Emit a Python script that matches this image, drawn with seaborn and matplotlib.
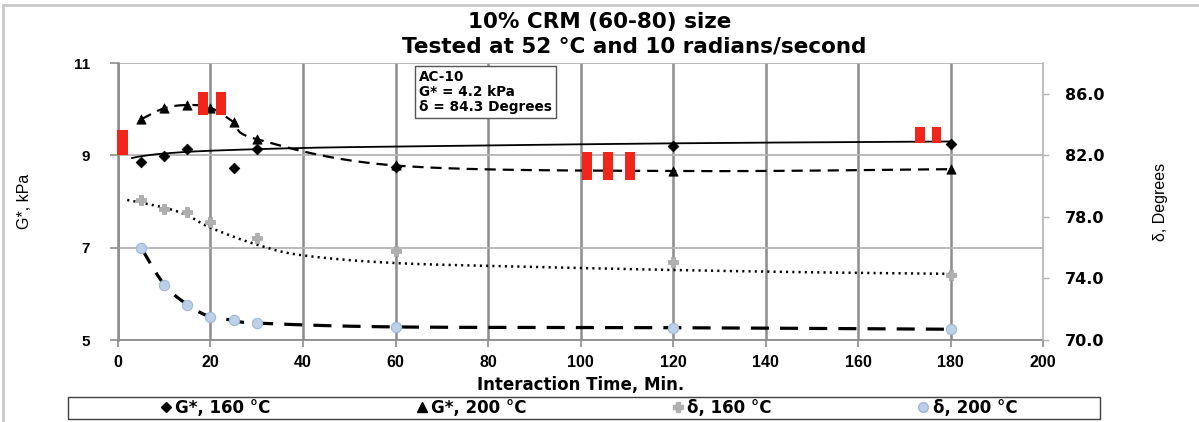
import numpy as np
import matplotlib
matplotlib.use("Agg")
import matplotlib.pyplot as plt
import seaborn as sns
from matplotlib.patches import Rectangle
from matplotlib.lines import Line2D

# ---------------- data ----------------
g160_time = [5, 10, 15, 25, 30, 60, 120, 180]
g160_val = [8.86, 8.98, 9.14, 8.72, 9.14, 8.75, 9.20, 9.25]
# trend line drawn through the G* 160 points
g160_trend_time = [3, 5, 10, 20, 40, 60, 120, 180]
g160_trend_val = [8.94, 8.98, 9.04, 9.10, 9.16, 9.19, 9.26, 9.30]

g200_time = [5, 10, 15, 20, 25, 30, 60, 120, 180]
g200_val = [9.78, 10.02, 10.09, 10.03, 9.72, 9.35, 8.78, 8.66, 8.70]

d160_time = [5, 10, 15, 20, 30, 60, 120, 180]
d160_val = [79.1, 78.5, 78.3, 77.7, 76.6, 75.8, 75.1, 74.2]
# dotted trend line of delta 160
d160_trend_time = [2, 10, 15, 20, 30, 40, 60, 90, 120, 150, 180]
d160_trend_val = [79.1, 78.6, 78.1, 77.3, 76.2, 75.5, 75.0, 74.75, 74.55, 74.4, 74.3]

d200_time = [5, 10, 15, 20, 25, 30, 60, 120, 180]
d200_val = [76.0, 73.6, 72.3, 71.5, 71.3, 71.1, 70.85, 70.8, 70.7]

x_ticks = [0, 20, 40, 60, 80, 100, 120, 140, 160, 180, 200]
left_ticks = [5, 7, 9, 11]
right_ticks = [70, 74, 78, 82, 86]

legend_labels = ["G*, 160 °C", "G*, 200 °C", "δ, 160 °C", "δ, 200 °C"]
title_line1 = "10% CRM (60-80) size"
title_line2 = "Tested at 52 °C and 10 radians/second"
info_text = "AC-10\nG* = 4.2 kPa\nδ = 84.3 Degrees"

# red highlight marks on the picture (x0, x1, y0, y1 in left-axis data units)
red_marks = [
    (-0.2, 2.2, 9.01, 9.55),
    (17.3, 19.5, 9.87, 10.37), (21.2, 23.4, 9.87, 10.37),
    (100.3, 102.5, 8.46, 9.07), (104.9, 107.0, 8.46, 9.07), (109.6, 111.8, 8.46, 9.07),
    (172.3, 174.5, 9.27, 9.61), (176.0, 177.9, 9.27, 9.61),
]

# ---------------- style ----------------
sns.set_theme(style="white")
plt.rcParams["font.family"] = ["DejaVu Sans"]
plt.rcParams["lines.scale_dashes"] = False
for k in ["text.color", "axes.labelcolor", "xtick.color", "ytick.color"]:
    plt.rcParams[k] = "black"
ARIAL = ["Liberation Sans", "DejaVu Sans"]


def smooth(xs, ys, n=40):
    """Excel-like smoothed line (Catmull-Rom Bezier) for drawing."""
    P = np.column_stack([xs, ys]).astype(float)
    out = []
    t = np.linspace(0, 1, n)[:, None]
    for i in range(len(P) - 1):
        p0 = P[i - 1] if i > 0 else P[i]
        p1, p2 = P[i], P[i + 1]
        p3 = P[i + 2] if i + 2 < len(P) else P[i + 1]
        c1 = p1 + (p2 - p0) / 6.0
        c2 = p2 - (p3 - p1) / 6.0
        seg = (1 - t) ** 3 * p1 + 3 * (1 - t) ** 2 * t * c1 + 3 * (1 - t) * t ** 2 * c2 + t ** 3 * p2
        out.append(seg if i == 0 else seg[1:])
    return np.vstack(out)


fig = plt.figure(figsize=(11.99, 4.22), dpi=100)
fig.patch.set_facecolor("white")
ax = fig.add_axes([0.0984, 0.1943, 0.7716, 0.6564])
ax2 = ax.twinx()

grid_dark = "#8c8c8c"
grid_light = "#b4b4b4"

# ---------------- lines ----------------
c = smooth(g160_trend_time, g160_trend_val)
ax.plot(c[:, 0], c[:, 1], color="black", lw=1.3, zorder=3)
c = smooth(g200_time, g200_val)
ax.plot(c[:, 0], c[:, 1], color="black", lw=1.6, dashes=(8, 5), zorder=3)
c = smooth(d160_trend_time, d160_trend_val)
ax2.plot(c[:, 0], c[:, 1], color="black", lw=1.8, dashes=(1.5, 3.0), zorder=3)
c = smooth(d200_time, d200_val)
ax2.plot(c[:, 0], c[:, 1], color="black", lw=2.3, dashes=(13, 8), zorder=3)

# ---------------- markers ----------------
sns.scatterplot(x=g160_time, y=g160_val, ax=ax, marker="D", color="black", s=30,
                edgecolor="black", linewidth=0.5, legend=False, zorder=4)
sns.scatterplot(x=g200_time, y=g200_val, ax=ax, marker="^", color="black", s=45,
                edgecolor="black", linewidth=0.5, legend=False, zorder=4)
sns.scatterplot(x=d160_time, y=d160_val, ax=ax2, marker="P", color="#b0b0b0", s=42,
                edgecolor="#a0a0a0", linewidth=0.5, legend=False, zorder=4)
sns.scatterplot(x=d200_time, y=d200_val, ax=ax2, marker="o", color="#bcd0e8", s=55,
                edgecolor="#9fb8d8", linewidth=0.8, legend=False, zorder=4)

for x0, x1, y0, y1 in red_marks:
    ax2.add_patch(Rectangle((x0, y0), x1 - x0, y1 - y0, transform=ax.transData,
                            facecolor="#f0261a", edgecolor="none", zorder=6, clip_on=False))

# ---------------- axes styling ----------------
ax.set_xlim(0, 200)
ax.set_ylim(5, 11)
ax2.set_ylim(70, 88)
ax.set_xticks(x_ticks)
ax.set_yticks(left_ticks)
ax2.set_yticks(right_ticks)
ax2.set_yticklabels([f"{v:.1f}" for v in right_ticks])

ax.grid(False)
ax2.grid(False)
ax.xaxis.grid(True, color=grid_dark, linewidth=1.8)
ax.yaxis.grid(True, color=grid_light, linewidth=1.3)
ax.set_axisbelow(True)
xgl = ax.get_xgridlines()
if xgl:
    xgl[-1].set_visible(False)

ax.spines["top"].set_visible(False)
ax2.spines["top"].set_visible(False)
ax.spines["right"].set_visible(False)
ax2.spines["left"].set_visible(False)
ax2.spines["bottom"].set_visible(False)
ax.spines["left"].set_color(grid_dark)
ax.spines["left"].set_linewidth(1.8)
ax.spines["bottom"].set_color(grid_dark)
ax.spines["bottom"].set_linewidth(1.3)
ax2.spines["right"].set_color(grid_light)
ax2.spines["right"].set_linewidth(1.2)

ax.tick_params(axis="x", direction="out", length=5, width=1.2, color=grid_dark, pad=6,
               labelsize=11.5, bottom=True, labelcolor="black")
ax.tick_params(axis="y", direction="out", length=6, width=1.2, color=grid_dark, pad=14,
               labelsize=11, left=True, labelcolor="black")
ax2.yaxis.set_tick_params(which="major", direction="out", length=4, width=1.0,
                          color=grid_light, pad=12, labelsize=11.5, right=True,
                          labelright=True, labelcolor="black")
for lab in ax.get_xticklabels() + ax.get_yticklabels():
    lab.set_fontweight("bold")
    lab.set_family(ARIAL)
for lab in ax2.get_yticklabels():
    lab.set_fontweight("bold")

ax.set_xlabel("Interaction Time, Min.", fontsize=12, fontweight="bold", labelpad=4,
              color="black")
ax.set_ylabel("G*, kPa", fontsize=11.5, labelpad=30, family=ARIAL, color="black")
ax2.set_ylabel("δ, Degrees", fontsize=11.5, labelpad=35, color="black",
               family=["Liberation Sans Narrow", "Liberation Sans", "DejaVu Sans"])

# ---------------- texts ----------------
fig.text(600 / 1199, 1 - 22 / 422, title_line1, ha="center", va="center",
         fontsize=15.5, fontweight="bold", color="black")
fig.text(634 / 1199, 1 - 46 / 422, title_line2, ha="center", va="center",
         fontsize=15.5, fontweight="bold", color="black")

fig.text(419 / 1199, 1 - 70 / 422, info_text, ha="left", va="top", fontsize=9.8,
         fontweight="bold", linespacing=1.1, color="black",
         bbox=dict(boxstyle="square,pad=0.3", facecolor="white", edgecolor="#555555", lw=1.0),
         zorder=7)

# ---------------- legend ----------------
handles = [
    Line2D([], [], linestyle="none", marker="D", color="black", markersize=5),
    Line2D([], [], linestyle="none", marker="^", color="black", markersize=7),
    Line2D([], [], linestyle="none", marker="P", color="#b0b0b0", markersize=7),
    Line2D([], [], linestyle="none", marker="o", markerfacecolor="#bcd0e8",
           markeredgecolor="#9fb8d8", markersize=7),
]
leg = fig.legend(handles, legend_labels, loc="center", bbox_to_anchor=(588 / 1199, 1 - 408 / 422),
                 ncol=4, frameon=False, handlelength=0.8, handletextpad=0.15,
                 columnspacing=8.7, prop=dict(size=12, weight="bold"))
for t in leg.get_texts():
    t.set_color("black")
fig.add_artist(Rectangle((68 / 1199, 1 - 419 / 422), 1032 / 1199, 22 / 422,
                         transform=fig.transFigure, facecolor="none",
                         edgecolor="#404040", lw=1.0))

fig.add_artist(Line2D([3 / 1199, 3 / 1199], [0, 1 - 5 / 422], transform=fig.transFigure,
                      color="#c8c8c8", lw=2))
fig.add_artist(Line2D([3 / 1199, 1], [1 - 5 / 422, 1 - 5 / 422], transform=fig.transFigure,
                      color="#c8c8c8", lw=2))

fig.savefig("out.png", dpi=100, facecolor="white")
